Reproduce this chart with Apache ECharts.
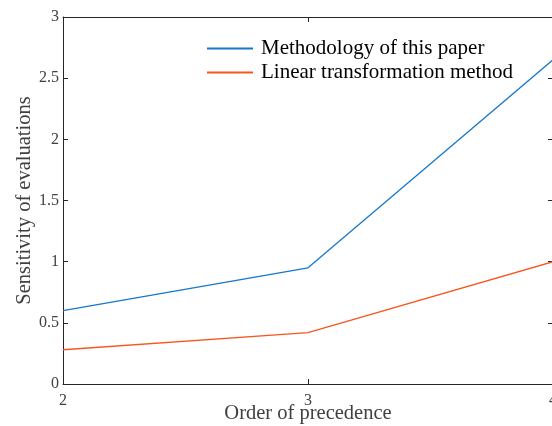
<!DOCTYPE html>
<html>
<head>
<meta charset="utf-8">
<script src="https://cdn.jsdelivr.net/npm/echarts@6/dist/echarts.min.js"></script>
<style>
  html, body { margin: 0; padding: 0; background: #fff; overflow: hidden; }
  #chart { width: 552px; height: 426px; }
</style>
</head>
<body>
<div id="chart"></div>
<script>
// Order of precedence (x) against sensitivity of evaluations (y)
const orders = [2, 3, 4];
const methodologyValues = [0.6, 0.95, 2.65];
const linearValues = [0.28, 0.42, 1.0];
const seriesNames = ['Methodology of this paper', 'Linear transformation method'];
const xTitle = 'Order of precedence';
const yTitle = 'Sensitivity of evaluations';

const font = 'Liberation Serif, Times New Roman, serif';
const axisColor = '#262626';
const labelColor = '#404040';

function pairs(xs, ys) { return xs.map((x, i) => [x, ys[i]]); }

const chart = echarts.init(document.getElementById('chart'), null, { renderer: 'canvas' });

const baseLine = { show: true, onZero: false, lineStyle: { color: axisColor, width: 1 } };
const baseTick = { show: true, inside: true, length: 5, lineStyle: { color: axisColor, width: 1 } };

chart.setOption({
  animation: false,
  backgroundColor: '#ffffff',
  grid: {
    left: 63, top: 17, width: 490, bottom: 42,
    containLabel: false, outerBoundsMode: 'none'
  },
  legend: {
    left: 207, top: 38, orient: 'vertical', itemGap: 3, padding: 0,
    itemWidth: 46, itemHeight: 2, icon: 'rect',
    textStyle: { fontFamily: font, fontSize: 21, color: '#000', padding: [0, 0, 0, 3] },
    data: seriesNames
  },
  xAxis: [
    {
      type: 'value', min: 2, max: 4, interval: 1, position: 'bottom',
      name: xTitle, nameLocation: 'middle', nameGap: 19, nameMoveOverlap: false,
      nameTextStyle: { fontFamily: font, fontSize: 20.5, color: labelColor },
      axisLine: baseLine, axisTick: baseTick,
      axisLabel: { fontFamily: font, fontSize: 16, color: labelColor, margin: 9, showMaxLabel: true },
      splitLine: { show: false }
    },
    {
      type: 'value', min: 2, max: 4, interval: 1, position: 'top',
      axisLine: baseLine, axisTick: baseTick,
      axisLabel: { show: false }, splitLine: { show: false }
    }
  ],
  yAxis: [
    {
      type: 'value', min: 0, max: 3, interval: 0.5, position: 'left',
      name: yTitle, nameLocation: 'middle', nameGap: 28, nameMoveOverlap: false,
      nameTextStyle: { fontFamily: font, fontSize: 20.5, color: labelColor },
      axisLine: baseLine, axisTick: baseTick,
      axisLabel: { fontFamily: font, fontSize: 16, color: labelColor, margin: 4 },
      splitLine: { show: false }
    },
    {
      type: 'value', min: 0, max: 3, interval: 0.5, position: 'right',
      axisLine: baseLine, axisTick: baseTick,
      axisLabel: { show: false }, splitLine: { show: false }
    }
  ],
  series: [
    {
      name: seriesNames[0], type: 'line', data: pairs(orders, methodologyValues),
      showSymbol: false, symbol: 'none', lineStyle: { color: '#1677CC', width: 1.3 },
      itemStyle: { color: '#1677CC' }
    },
    {
      name: seriesNames[1], type: 'line', data: pairs(orders, linearValues),
      showSymbol: false, symbol: 'none', lineStyle: { color: '#F9551E', width: 1.3 },
      itemStyle: { color: '#F9551E' }
    }
  ]
});
</script>
</body>
</html>
